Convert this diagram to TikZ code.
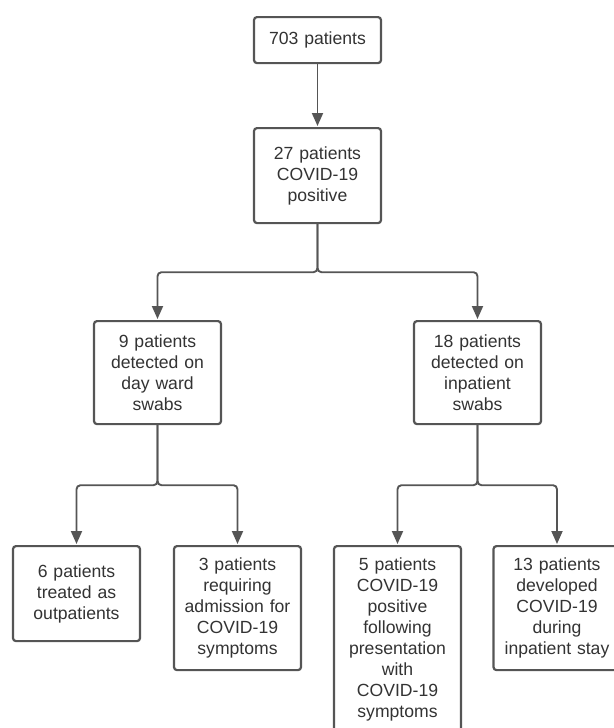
\documentclass[tikz,border=0pt]{standalone}
\usepackage{fontspec}
\setmainfont{Liberation Sans}
\usepackage{xcolor}
\usetikzlibrary{arrows.meta}
\definecolor{boxgray}{HTML}{555555}
\definecolor{textgray}{HTML}{333333}

\begin{document}
\begin{tikzpicture}[x=1pt,y=-1pt,auto,main node/.style={draw=boxgray,line width=2.2pt,rounded corners=3pt,fill=white,text=textgray,align=center,minimum width=127pt,text width=125pt,inner sep=0pt,anchor=north,font=\fontsize{17.6}{21}\selectfont}]
\tikzstyle{flow edge} = [draw=boxgray,line width=1.9pt,-{Triangle[length=13pt,width=11pt]},rounded corners=4pt,shorten >=1pt]
\useasboundingbox (0,0) rectangle (613,728);

% Boxes
\node[main node,minimum height=46pt] (all) at (317.5,16) {703 patients};
\node[main node,minimum height=95pt] (pos) at (317.5,127) {27 patients\\COVID-19\\positive};
\node[main node,minimum height=103pt] (day) at (157.5,320) {9 patients\\detected on\\day ward\\swabs};
\node[main node,minimum height=103pt] (inp) at (477.5,320) {18 patients\\detected on\\inpatient\\swabs};
\node[main node,minimum height=95pt] (outp) at (76.5,545) {6 patients\\treated as\\outpatients};
\node[main node,minimum height=124pt] (adm) at (237.5,545) {3 patients\\requiring\\admission for\\COVID-19\\symptoms};
\node[main node,minimum height=187pt] (pres) at (397.5,545) {5 patients\\COVID-19\\positive\\following\\presentation\\with\\COVID-19\\symptoms};
\node[main node,minimum height=124pt] (stay) at (557,545) {13 patients\\developed\\COVID-19\\during\\inpatient stay};

% Draw arrows
\draw[flow edge] (all.south) -- (pos.north);
\draw[flow edge] (pos.south) -- ++(0,48) -| (day.north);
\draw[flow edge] (pos.south) -- ++(0,48) -| (inp.north);
\draw[flow edge] (day.south) -- ++(0,60) -| (outp.north);
\draw[flow edge] (day.south) -- ++(0,60) -| (adm.north);
\draw[flow edge] (inp.south) -- ++(0,60) -| (pres.north);
\draw[flow edge] (inp.south) -- ++(0,60) -| (stay.north);

\end{tikzpicture}
\end{document}
